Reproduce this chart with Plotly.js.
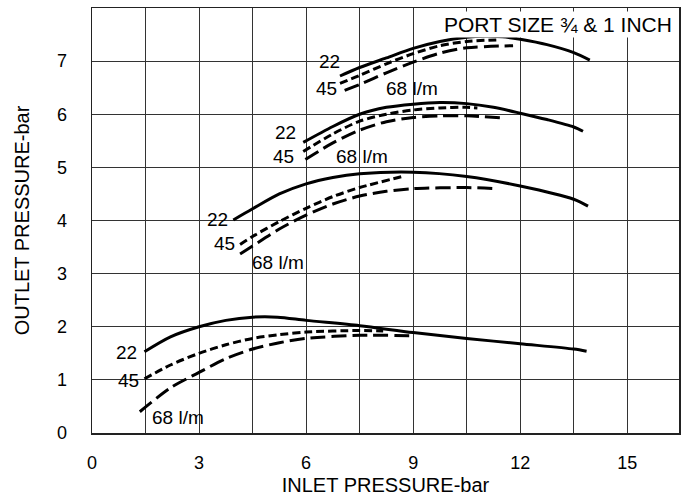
<!DOCTYPE html>
<html>
<head>
<meta charset="utf-8">
<script src="https://cdn.plot.ly/plotly-3.0.1.min.js"></script>
<style>html,body{margin:0;padding:0;background:#fff;}#chart{width:686px;height:500px;}</style>
</head>
<body>
<div id="chart"></div>
<script>
// Bottom group
const a22_x = [1.47, 2.2, 3, 3.75, 4.5, 5.2, 6, 7.5, 9, 10.5, 12, 13.5, 13.86];
const a22_y = [1.53, 1.81, 2.0, 2.12, 2.18, 2.18, 2.12, 2.02, 1.89, 1.78, 1.68, 1.58, 1.54];
const a45_x = [1.47, 2.2, 3, 3.75, 4.5, 5.25, 6, 7.5, 8.16];
const a45_y = [1.02, 1.28, 1.50, 1.66, 1.78, 1.85, 1.90, 1.93, 1.92];
const a68_x = [1.34, 2.2, 3, 3.75, 4.5, 5.25, 6, 7.5, 9.0];
const a68_y = [0.40, 0.85, 1.14, 1.40, 1.58, 1.70, 1.78, 1.84, 1.83];
// Middle group
const b22_x = [3.96, 4.5, 5.25, 6, 6.75, 7.5, 9, 10.5, 12, 13.5, 13.9];
const b22_y = [4.01, 4.22, 4.50, 4.69, 4.81, 4.88, 4.91, 4.83, 4.65, 4.40, 4.27];
const b45_x = [4.15, 4.5, 5.25, 6, 6.75, 7.5, 8.77];
const b45_y = [3.55, 3.70, 3.98, 4.23, 4.45, 4.62, 4.84];
const b68_x = [4.15, 4.5, 5.25, 6, 6.75, 7.5, 8.25, 9, 10.5, 11.34];
const b68_y = [3.37, 3.52, 3.84, 4.10, 4.31, 4.46, 4.55, 4.60, 4.62, 4.60];
// Upper-middle group
const c22_x = [5.92, 6.75, 7.5, 8.25, 9, 9.75, 10.5, 11.25, 12, 12.75, 13.5, 13.76];
const c22_y = [5.47, 5.77, 6.00, 6.13, 6.19, 6.22, 6.20, 6.13, 6.02, 5.90, 5.76, 5.68];
const c45_x = [5.92, 6.75, 7.5, 8.25, 9, 9.75, 10.5, 10.8];
const c45_y = [5.30, 5.63, 5.87, 6.00, 6.08, 6.12, 6.13, 6.12];
const c68_x = [5.98, 6.75, 7.5, 8.25, 9, 9.75, 10.5, 11.57];
const c68_y = [5.15, 5.46, 5.70, 5.86, 5.94, 5.97, 5.97, 5.93];
// Top group
const d22_x = [6.95, 7.5, 8.25, 9, 9.75, 10.5, 11, 11.5, 12, 12.75, 13.5, 13.95];
const d22_y = [6.72, 6.88, 7.06, 7.24, 7.37, 7.45, 7.47, 7.46, 7.41, 7.31, 7.16, 7.02];
const d45_x = [6.95, 7.5, 8.25, 9, 9.75, 10.5, 11.33];
const d45_y = [6.58, 6.73, 6.95, 7.14, 7.29, 7.37, 7.40];
const d68_x = [7.08, 7.5, 8.25, 9, 9.75, 10.5, 11.8];
const d68_y = [6.45, 6.56, 6.78, 6.98, 7.15, 7.25, 7.29];

// Curve labels
const label_text = ["22", "45", "68 l/m", "22", "45", "68 l/m", "22", "45", "68 l/m", "22", "45", "68 l/m"];
const label_x = [0.97, 1.02, 2.40, 3.51, 3.71, 5.20, 5.43, 5.38, 7.58, 6.65, 6.57, 8.98];
const label_y = [1.51, 0.98, 0.30, 4.02, 3.56, 3.21, 5.65, 5.20, 5.20, 7.00, 6.49, 6.49];

const xTicks = [0, 3, 6, 9, 12, 15];
const yTicks = [0, 1, 2, 3, 4, 5, 6, 7];
const chartTitle = "PORT SIZE ¾ & 1 INCH";
const xTitle = "INLET PRESSURE-bar";
const yTitle = "OUTLET PRESSURE-bar";

const FONT = "Liberation Sans, Arial, sans-serif";

const styles = {
  s22: {color: "#000", width: 3, dash: "solid"},
  s45: {color: "#000", width: 3, dash: "8px,4px"},
  s68: {color: "#000", width: 3, dash: "15px,6px"}
};
function tr(x, y, st) {
  return {x: x, y: y, type: "scatter", mode: "lines", line: Object.assign({shape: "spline", smoothing: 0.8}, st), hoverinfo: "skip", showlegend: false};
}
const data = [
  tr(a22_x, a22_y, styles.s22), tr(a45_x, a45_y, styles.s45), tr(a68_x, a68_y, styles.s68),
  tr(b22_x, b22_y, styles.s22), tr(b45_x, b45_y, styles.s45), tr(b68_x, b68_y, styles.s68),
  tr(c22_x, c22_y, styles.s22), tr(c45_x, c45_y, styles.s45), tr(c68_x, c68_y, styles.s68),
  tr(d22_x, d22_y, styles.s22), tr(d45_x, d45_y, styles.s45), tr(d68_x, d68_y, styles.s68)
];

const annotations = label_text.map((t, i) => ({
  x: label_x[i], y: label_y[i], xref: "x", yref: "y", text: t, showarrow: false,
  font: {family: FONT, size: 19, color: "#000"}, borderpad: 0
}));
annotations.push({
  x: 1, y: 1, xref: "paper", yref: "paper", xanchor: "right", yanchor: "top",
  text: chartTitle, showarrow: false, bgcolor: "#fff", borderpad: 1, xshift: -5, yshift: -3,
  font: {family: FONT, size: 21, color: "#000"}
});

const layout = {
  width: 686, height: 500,
  margin: {l: 92, r: 7, t: 8, b: 67},
  paper_bgcolor: "#fff", plot_bgcolor: "#fff",
  showlegend: false,
  xaxis: {
    range: [0, 16.45], tickvals: xTicks, ticktext: xTicks.map(String),
    showgrid: true, gridcolor: "#333", gridwidth: 1,
    minor: {dtick: 1.5, tick0: 0, showgrid: true, gridcolor: "#333", gridwidth: 1},
    zeroline: false, showline: true, linecolor: "#222", linewidth: 1.5, mirror: true,
    ticks: "", ticklabelstandoff: 13,
    tickfont: {family: FONT, size: 18, color: "#000"},
    title: {text: xTitle, font: {family: FONT, size: 20, color: "#000"}, standoff: 6}
  },
  yaxis: {
    range: [0, 8], tickvals: yTicks, ticktext: yTicks.map(String),
    showgrid: true, gridcolor: "#333", gridwidth: 1,
    zeroline: false, showline: true, linecolor: "#222", linewidth: 1.5, mirror: true,
    ticks: "", ticklabelstandoff: 20,
    tickfont: {family: FONT, size: 18, color: "#000"},
    title: {text: yTitle, font: {family: FONT, size: 20, color: "#000"}, standoff: 22}
  },
  annotations: annotations
};

Plotly.newPlot("chart", data, layout, {displayModeBar: false, staticPlot: true});
</script>
</body>
</html>
